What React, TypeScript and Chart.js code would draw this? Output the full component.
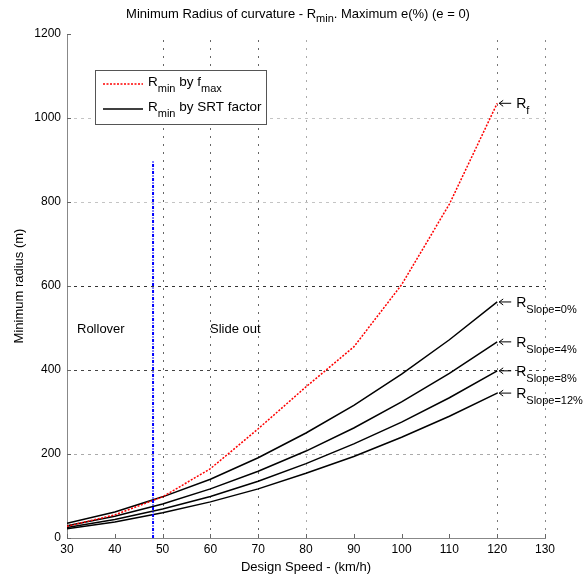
import React, { useEffect, useRef } from "react";
import { Chart, registerables } from "chart.js";

Chart.register(...registerables);

const SPEEDS = [30, 40, 50, 60, 70, 80, 90, 100, 110, 120];
const R_FMAX = [28, 55, 98, 165, 260, 360, 455, 603, 795, 1035];
const R_SLOPE0 = [35, 62, 98, 140, 191, 250, 316, 390, 472, 562];
const R_SLOPE4 = [29, 52, 81, 117, 159, 207, 262, 324, 392, 467];
const R_SLOPE8 = [25, 44, 69, 99, 135, 177, 224, 276, 334, 398];
const R_SLOPE12 = [22, 38, 60, 86, 117, 154, 194, 240, 290, 345];
const ROLLOVER_X = [48, 48];
const ROLLOVER_Y = [0, 900];
const X_TICKS = [30, 40, 50, 60, 70, 80, 90, 100, 110, 120, 130];
const Y_TICKS = [0, 200, 400, 600, 800, 1000, 1200];
const SLOPE_LABELS = ["Slope=0%", "Slope=4%", "Slope=8%", "Slope=12%"];

const FONT = "'Liberation Sans', Arial, sans-serif";

type Part = { t: string; sub?: boolean };

function drawRich(
  ctx: CanvasRenderingContext2D,
  parts: Part[],
  x: number,
  y: number,
  size: number,
  subSize: number,
  subDy: number,
  measureOnly = false
): number {
  let cx = x;
  for (const p of parts) {
    const s = p.sub ? subSize : size;
    ctx.font = `${s}px ${FONT}`;
    if (!measureOnly) ctx.fillText(p.t, cx, p.sub ? y + subDy : y);
    cx += ctx.measureText(p.t).width;
  }
  return cx - x;
}

const pts = (xs: number[], ys: number[]) => ys.map((y, i) => ({ x: xs[i], y }));

const decorPlugin = {
  id: "decor",
  beforeDatasetsDraw(chart: any) {
    const { ctx, chartArea: a, scales } = chart;
    const xs = scales.x;
    const ys = scales.y;
    ctx.save();
    ctx.lineWidth = 1;
    // vertical grid (dotted)
    const vLines: [number, string][] = [
      [50, "#666"],
      [60, "#666"],
      [70, "#666"],
      [80, "#aaa"],
      [120, "#777"],
      [130, "#888"],
    ];
    for (const [v, c] of vLines) {
      const px = Math.round(xs.getPixelForValue(v)) + 0.5;
      ctx.strokeStyle = c;
      ctx.setLineDash([2, 6]);
      ctx.beginPath();
      ctx.moveTo(px, a.bottom);
      ctx.lineTo(px, a.top);
      ctx.stroke();
    }
    // horizontal grid (dashed)
    const hLines: [number, string][] = [
      [200, "#aaa"],
      [400, "#444"],
      [600, "#333"],
      [800, "#c4c4c4"],
      [1000, "#c4c4c4"],
    ];
    for (const [v, c] of hLines) {
      const py = Math.round(ys.getPixelForValue(v)) + 0.5;
      ctx.strokeStyle = c;
      ctx.setLineDash([3, 4]);
      ctx.beginPath();
      ctx.moveTo(a.left, py);
      ctx.lineTo(a.right, py);
      ctx.stroke();
    }
    ctx.setLineDash([]);
    // tick marks (inward)
    ctx.strokeStyle = "#666";
    for (const v of X_TICKS) {
      const px = Math.round(xs.getPixelForValue(v)) + 0.5;
      ctx.beginPath();
      ctx.moveTo(px, a.bottom);
      ctx.lineTo(px, a.bottom - 4);
      ctx.stroke();
    }
    for (const v of Y_TICKS) {
      const py = Math.round(ys.getPixelForValue(v)) + 0.5;
      ctx.beginPath();
      ctx.moveTo(a.left, py);
      ctx.lineTo(a.left + 4, py);
      ctx.stroke();
    }
    ctx.restore();
  },
  afterDraw(chart: any) {
    const { ctx, scales } = chart;
    const xs = scales.x;
    const ys = scales.y;
    ctx.save();
    ctx.fillStyle = "#000";
    ctx.textBaseline = "alphabetic";
    ctx.textAlign = "left";

    // title
    const titleParts: Part[] = [
      { t: "Minimum Radius of curvature - R" },
      { t: "min", sub: true },
      { t: ". Maximum e(%) (e = 0)" },
    ];
    const tw = drawRich(ctx, titleParts, 0, 0, 13, 11, 4, true);
    drawRich(ctx, titleParts, 298 - tw / 2, 18, 13, 11, 4);

    // region labels
    ctx.font = `13px ${FONT}`;
    ctx.fillText("Rollover", 77, 333);
    ctx.fillText("Slide out", 210, 333);

    // legend
    const lx = 95.5, ly = 70.5, lw = 171, lh = 54;
    ctx.fillStyle = "#fff";
    ctx.fillRect(lx, ly, lw, lh);
    ctx.strokeStyle = "#555";
    ctx.lineWidth = 1;
    ctx.strokeRect(lx, ly, lw, lh);
    ctx.strokeStyle = "#f00";
    ctx.lineWidth = 1.5;
    ctx.setLineDash([2, 1.5]);
    ctx.beginPath();
    ctx.moveTo(103, 84);
    ctx.lineTo(143, 84);
    ctx.stroke();
    ctx.setLineDash([]);
    ctx.strokeStyle = "#000";
    ctx.beginPath();
    ctx.moveTo(103, 109);
    ctx.lineTo(143, 109);
    ctx.stroke();
    ctx.fillStyle = "#000";
    drawRich(ctx, [{ t: "R" }, { t: "min", sub: true }, { t: " by f" }, { t: "max", sub: true }], 148, 86, 13.5, 11, 6);
    drawRich(ctx, [{ t: "R" }, { t: "min", sub: true }, { t: " by SRT factor" }], 148, 111, 13.5, 11, 6);

    // end labels with arrows
    const ends: [number, string][] = [
      [R_FMAX[R_FMAX.length - 1], "f"],
      [R_SLOPE0[R_SLOPE0.length - 1], SLOPE_LABELS[0]],
      [R_SLOPE4[R_SLOPE4.length - 1], SLOPE_LABELS[1]],
      [R_SLOPE8[R_SLOPE8.length - 1], SLOPE_LABELS[2]],
      [R_SLOPE12[R_SLOPE12.length - 1], SLOPE_LABELS[3]],
    ];
    const lastX = SPEEDS[SPEEDS.length - 1];
    for (const [v, lab] of ends) {
      const px = xs.getPixelForValue(lastX);
      const py = ys.getPixelForValue(v);
      ctx.strokeStyle = "#000";
      ctx.lineWidth = 1;
      ctx.beginPath();
      ctx.moveTo(px + 2, py);
      ctx.lineTo(px + 14, py);
      ctx.moveTo(px + 6, py - 3);
      ctx.lineTo(px + 2, py);
      ctx.lineTo(px + 6, py + 3);
      ctx.stroke();
      drawRich(ctx, [{ t: "R" }, { t: lab, sub: true }], px + 19, py + 5, 14, 11, 6);
    }
    ctx.restore();
  },
};

export default function App() {
  const ref = useRef<HTMLCanvasElement | null>(null);
  useEffect(() => {
    if (!ref.current) return;
    const tickFont = { family: FONT, size: 12 };
    const titleFont = { family: FONT, size: 13 };
    const chart = new Chart(ref.current, {
      type: "scatter",
      data: {
        datasets: [
          {
            label: "Rollover",
            data: pts(ROLLOVER_X, ROLLOVER_Y),
            showLine: true,
            borderColor: "#0000ff",
            borderWidth: 2,
            borderDash: [3, 1.5, 1, 1.5],
            pointRadius: 0,
          },
          {
            label: "Rmin by fmax",
            data: pts(SPEEDS, R_FMAX),
            showLine: true,
            borderColor: "#ff0000",
            borderWidth: 1.5,
            borderDash: [2, 1.5],
            pointRadius: 0,
          },
          {
            label: "Slope 0%",
            data: pts(SPEEDS, R_SLOPE0),
            showLine: true,
            borderColor: "#000",
            borderWidth: 1.5,
            pointRadius: 0,
          },
          {
            label: "Slope 4%",
            data: pts(SPEEDS, R_SLOPE4),
            showLine: true,
            borderColor: "#000",
            borderWidth: 1.5,
            pointRadius: 0,
          },
          {
            label: "Slope 8%",
            data: pts(SPEEDS, R_SLOPE8),
            showLine: true,
            borderColor: "#000",
            borderWidth: 1.5,
            pointRadius: 0,
          },
          {
            label: "Slope 12%",
            data: pts(SPEEDS, R_SLOPE12),
            showLine: true,
            borderColor: "#000",
            borderWidth: 1.5,
            pointRadius: 0,
          },
        ],
      },
      options: {
        responsive: false,
        animation: false,
        layout: { padding: { top: 34, right: 38, left: 0, bottom: 0 } },
        plugins: { legend: { display: false }, tooltip: { enabled: false }, title: { display: false } },
        scales: {
          x: {
            type: "linear",
            min: 30,
            max: 130,
            afterBuildTicks: (s: any) => {
              s.ticks = X_TICKS.map((v) => ({ value: v }));
            },
            afterFit: (s: any) => {
              s.height = 41;
            },
            ticks: {
              font: tickFont,
              color: "#000",
              padding: 4,
              maxRotation: 0,
              autoSkip: false,
              callback: (v: any) => String(v),
            },
            grid: { display: false, drawTicks: false },
            border: { display: true, color: "#888" },
            title: {
              display: true,
              text: "Design Speed - (km/h)",
              font: titleFont,
              color: "#000",
              padding: { top: 0, bottom: 4 },
            },
          },
          y: {
            type: "linear",
            min: 0,
            max: 1200,
            afterBuildTicks: (s: any) => {
              s.ticks = Y_TICKS.map((v) => ({ value: v }));
            },
            afterFit: (s: any) => {
              s.width = 67;
            },
            ticks: {
              font: tickFont,
              color: "#000",
              padding: 6,
              autoSkip: false,
              callback: (v: any) => String(v),
            },
            grid: { display: false, drawTicks: false },
            border: { display: true, color: "#888" },
            title: {
              display: true,
              text: "Minimum radius (m)",
              font: titleFont,
              color: "#000",
              padding: { top: 12, bottom: 0 },
            },
          },
        },
      },
      plugins: [decorPlugin],
    } as any);
    return () => chart.destroy();
  }, []);
  return (
    <div style={{ position: "fixed", left: 0, top: 0, width: 583, height: 579, background: "#fff" }}>
      <canvas ref={ref} width={583} height={579} />
    </div>
  );
}
